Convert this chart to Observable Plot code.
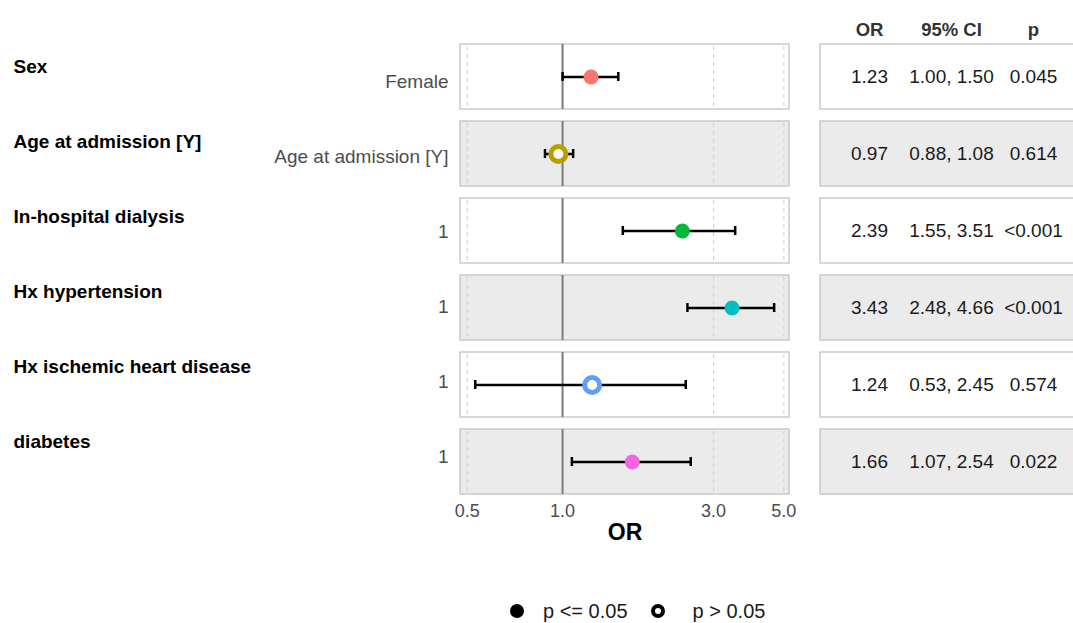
<!DOCTYPE html>
<html><head><meta charset="utf-8">
<script src="https://cdn.jsdelivr.net/npm/d3@7"></script>
<script src="https://cdn.jsdelivr.net/npm/@observablehq/plot@0.6"></script>
<style>
html,body{margin:0;padding:0;background:#fff;overflow:hidden;}
body{font-family:"Liberation Sans",Arial,Helvetica,sans-serif;width:1073px;height:623px;position:relative;}
#row{display:flex;align-items:flex-start;width:1073px;}
#row svg{overflow:visible;flex:none;}
#legend{position:absolute;left:510px;top:598px;display:flex;align-items:center;font-size:20px;color:#1a1a1a;height:26px;white-space:nowrap;}
.sym{display:inline-block;box-sizing:border-box;width:14px;height:14px;border-radius:50%;flex:none;}
.filled{background:#000;}
.open{border:4.5px solid #000;background:#fff;}
</style></head><body>
<div id="row"></div>
<div id="legend">
  <span class="sym filled"></span><span style="margin-left:19px;">p &lt;= 0.05</span>
  <span class="sym open" style="margin-left:23px;"></span><span style="margin-left:28px;">p &gt; 0.05</span>
</div>
<script>
const variables = ["Sex", "Age at admission [Y]", "In-hospital dialysis", "Hx hypertension", "Hx ischemic heart disease", "diabetes"];
const levels = ["Female", "Age at admission [Y]", "1", "1", "1", "1"];
const oddsRatios = [1.23, 0.97, 2.39, 3.43, 1.24, 1.66];
const ciLower = [1.00, 0.88, 1.55, 2.48, 0.53, 1.07];
const ciUpper = [1.50, 1.08, 3.51, 4.66, 2.45, 2.54];
const pLabels = ["0.045", "0.614", "<0.001", "<0.001", "0.574", "0.022"];
const pValues = [0.045, 0.614, 0.0009, 0.0009, 0.574, 0.022];
const pointColors = ["#F8766D", "#B79F00", "#00BA38", "#00BFC4", "#619CFF", "#F564E3"];
const xTicks = [0.5, 1.0, 3.0, 5.0];
const gridValues = [0.5, 3.0, 5.0];
const nullValue = 1;
const tableColumns = ["OR", "95% CI", "p"];
const axisTitle = "OR";

const fmt2 = d3.format(".2f");
const fmt1 = d3.format(".1f");
const rows = variables.map((v, i) => ({
  var: v, level: levels[i], or: oddsRatios[i], lo: ciLower[i], hi: ciUpper[i],
  p: pValues[i], pLabel: pLabels[i], sig: pValues[i] <= 0.05, shade: i % 2 === 1
}));
const gridRows = rows.flatMap(r => gridValues.map(g => ({var: r.var, x: g})));
const refRows = rows.map(r => ({var: r.var, x: nullValue}));
const tableCells = rows.flatMap(r => [
  {var: r.var, col: tableColumns[0], text: fmt2(r.or)},
  {var: r.var, col: tableColumns[1], text: `${fmt2(r.lo)}, ${fmt2(r.hi)}`},
  {var: r.var, col: tableColumns[2], text: r.pLabel}
]);

const H = 555, MT = 42, MB = 60;
const yScale = {domain: variables, paddingInner: 0.16, paddingOuter: 0, axis: null};
const baseStyle = {fontFamily: '"Liberation Sans", Arial, Helvetica, sans-serif', background: "transparent", overflow: "visible"};
const rowFill = d => d.shade ? "#ebebeb" : "#ffffff";
const rowStroke = "#c2c2c2";

const left = Plot.plot({
  width: 460, height: H, marginTop: MT, marginBottom: MB, marginLeft: 13, marginRight: 12,
  y: yScale, style: baseStyle,
  marks: [
    Plot.text(rows, {y: "var", text: "var", frameAnchor: "left", textAnchor: "start", dy: -15, fontWeight: "bold", fill: "#000", fontSize: 19}),
    Plot.text(rows, {y: "var", text: "level", frameAnchor: "right", textAnchor: "end", fill: "#4d4d4d", fontSize: 19})
  ]
});

const main = Plot.plot({
  width: 340, height: H, marginTop: MT, marginBottom: MB, marginLeft: 0, marginRight: 11,
  x: {type: "log", domain: [0.476, 5.21], axis: null},
  y: yScale,
  color: {domain: variables, range: pointColors},
  style: baseStyle,
  marks: [
    Plot.cell(rows, {y: "var", fill: rowFill, stroke: rowStroke, strokeWidth: 1.3}),
    Plot.ruleX(gridRows, {x: "x", y1: "var", y2: "var", stroke: "#cfcfcf", strokeWidth: 1, strokeDasharray: "4,4", insetTop: 2, insetBottom: 2}),
    Plot.ruleX(refRows, {x: "x", y1: "var", y2: "var", stroke: "#7a7a7a", strokeWidth: 2}),
    Plot.ruleY(rows, {y: "var", x1: "lo", x2: "hi", stroke: "#000", strokeWidth: 2.5}),
    Plot.tickX(rows, {x: "lo", y: "var", stroke: "#000", strokeWidth: 2.5, insetTop: 28, insetBottom: 28}),
    Plot.tickX(rows, {x: "hi", y: "var", stroke: "#000", strokeWidth: 2.5, insetTop: 28, insetBottom: 28}),
    Plot.dot(rows.filter(d => d.sig), {x: "or", y: "var", r: 7.5, fill: "var"}),
    Plot.dot(rows.filter(d => !d.sig), {x: "or", y: "var", r: 7.5, stroke: "var", strokeWidth: 5, fill: "#fff"}),
    Plot.text(xTicks, {x: d => d, text: d => fmt1(d), frameAnchor: "bottom", lineAnchor: "top", dy: 9, fontSize: 18, fill: "#4d4d4d"}),
    Plot.text([axisTitle], {frameAnchor: "bottom", dy: 44, text: d => d, fontWeight: "bold", fontSize: 23, fill: "#000"})
  ]
});

const table = Plot.plot({
  width: 273, height: H, marginTop: MT, marginBottom: MB, marginLeft: 20, marginRight: 0,
  x: {type: "point", domain: tableColumns, range: [68, 233], padding: 0, axis: null},
  y: yScale, style: baseStyle,
  marks: [
    Plot.cell(rows, {y: "var", fill: rowFill, stroke: rowStroke, strokeWidth: 1.3, insetRight: -12}),
    Plot.text(tableCells, {x: "col", y: "var", text: "text", fontSize: 19, fill: "#1a1a1a"}),
    Plot.text(tableColumns, {x: d => d, text: d => d, frameAnchor: "top", lineAnchor: "bottom", dy: -7, fontSize: 18.5, fontWeight: "bold", fill: "#333"})
  ]
});

const row = document.getElementById("row");
row.append(left, main, table);
</script>
</body></html>
